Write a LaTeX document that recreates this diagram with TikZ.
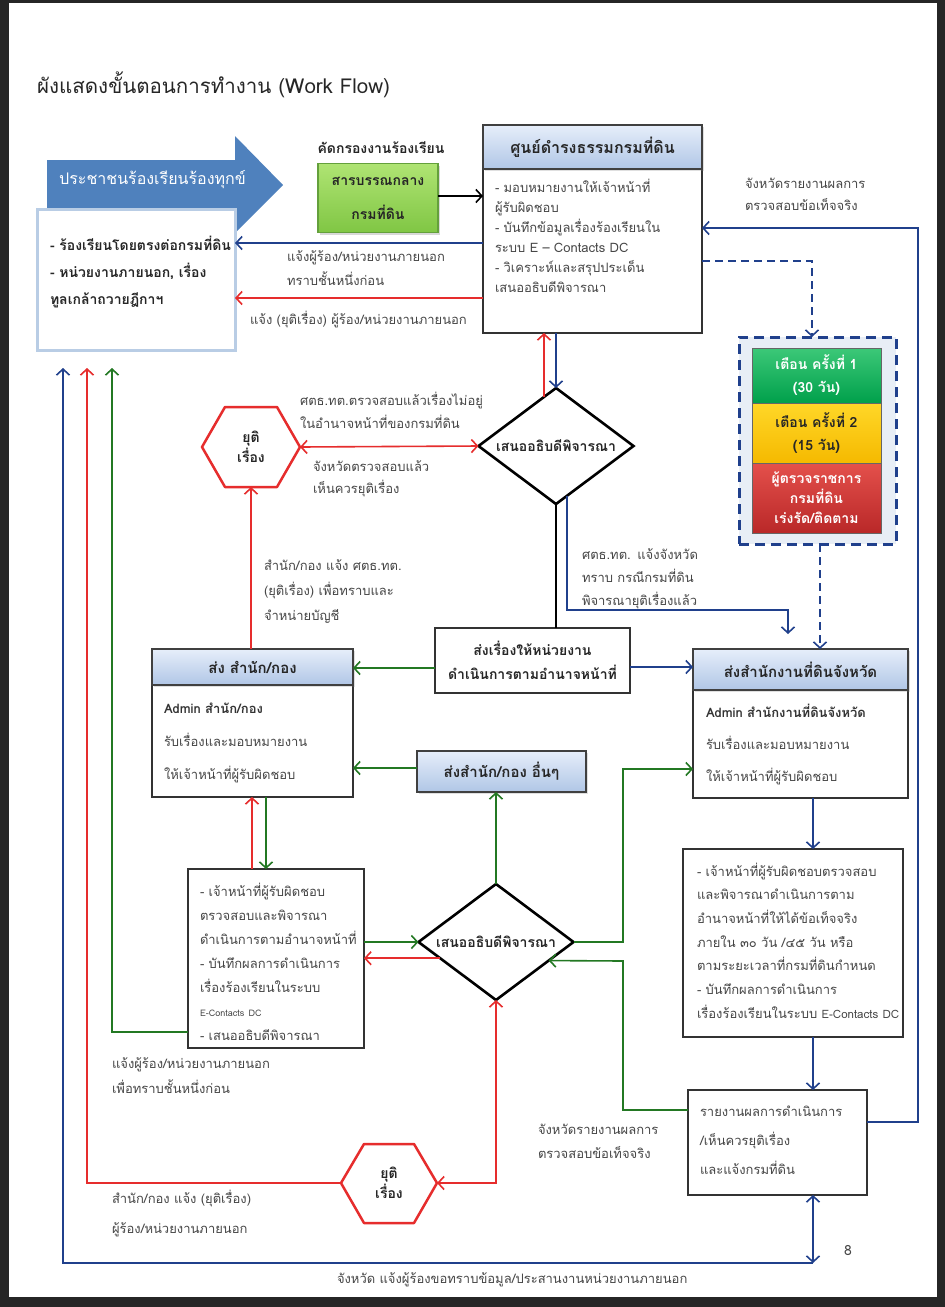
\documentclass[tikz,border=0pt]{standalone}
\usepackage{fontspec}
\setmainfont[Script=Thai]{Loma}
\usetikzlibrary{shapes.geometric,arrows.meta,shadows,calc}
\definecolor{lblue}{RGB}{32,64,140}
\definecolor{lred}{RGB}{230,45,45}
\definecolor{lgreen}{RGB}{35,120,35}
\definecolor{bigarrow}{RGB}{79,129,189}
\definecolor{tgray}{RGB}{70,70,70}
\definecolor{hdtop}{RGB}{230,238,250}
\definecolor{hdbot}{RGB}{176,198,230}
\definecolor{pale}{RGB}{185,205,229}
\definecolor{gtop}{RGB}{175,228,115}
\definecolor{gbot}{RGB}{128,198,68}
\begin{document}
\begin{tikzpicture}[x=1pt,y=-1pt,
  >={Straight Barb[length=6pt,width=13pt]},
  boxs/.style={draw=black!80, line width=1.4pt, fill=white, inner sep=0pt, outer sep=0pt, anchor=north west},
  hdrs/.style={draw=black!75, line width=2.2pt, top color=hdtop, bottom color=hdbot, inner sep=0pt, outer sep=0pt, anchor=north west, font=\fontsize{15}{18}\selectfont\bfseries, text=black!85, drop shadow={opacity=0.25,shadow xshift=2pt,shadow yshift=-2pt}},
  tx/.style={inner sep=0pt, outer sep=0pt, anchor=base west, align=left, text=tgray, text width=260pt},
  bf/.style={inner sep=0pt, outer sep=0pt, align=center, text=black!85, font=\fontsize{14}{#1}\selectfont\bfseries},
  bf/.default=20,
  cb/.style={draw=lblue, line width=1.6pt},
  cr/.style={draw=lred, line width=1.6pt},
  cg/.style={draw=lgreen, line width=1.6pt},
  dsh/.style={dash pattern=on 8pt off 5pt},
  hexs/.style={draw=lred, line width=2.5pt, fill=white, line join=round},
  dia/.style={diamond, draw=black, line width=2.6pt, fill=white, minimum width=155pt, minimum height=116pt, inner sep=0pt, outer sep=0pt},
  warn/.style={draw=black!60, line width=1pt, inner sep=0pt, outer sep=0pt, anchor=north west, minimum width=129pt, align=center, font=\fontsize{14}{#1}\selectfont\bfseries},
]
\useasboundingbox (0,0) rectangle (945,1307);
% page frame
\fill[black!85] (0,0) rectangle (945,1307);
\fill[white] (9,3) rectangle (937,1297);

% title
\node[anchor=base west, inner sep=0pt, font=\fontsize{20.5}{24}\selectfont, text=black!85] (title) at (37,93) {ผังแสดงขั้นตอนการทำงาน (Work Flow)};

% big arrow
\fill[bigarrow] (47,160) -- (235,160) -- (235,136) -- (283,185) -- (235,233) -- (235,208) -- (47,208) -- cycle;
\node[anchor=base west, inner sep=0pt, text=white, font=\fontsize{16}{20}\selectfont] (people) at (59,184) {ประชาชนร้องเรียนร้องทุกข์};

% left box
\node[draw=pale, line width=3pt, fill=white, minimum width=198pt, minimum height=141pt, anchor=north west, inner sep=0pt, outer sep=0pt] (lbox) at (37,209) {};
\node[tx, font=\fontsize{14}{27}\selectfont\bfseries, text=black!85] (ltext) at (50,250) {- ร้องเรียนโดยตรงต่อกรมที่ดิน\\- หน่วยงานภายนอก, เรื่อง\\ทูลเกล้าถวายฎีกาฯ};

% green box
\node[bf] (kad) at (381,148) {คัดกรองงานร้องเรียน};
\node[draw={rgb,255:red,100;green,160;blue,60}, line width=1.2pt, top color=gtop, bottom color=gbot, minimum width=120pt, minimum height=69pt, inner sep=0pt, outer sep=0pt, align=center, font=\fontsize{14}{34}\selectfont\bfseries, text=black!85, drop shadow={opacity=0.3,shadow xshift=2pt,shadow yshift=-2pt}] (sarab) at (378,198) {สารบรรณกลาง\\กรมที่ดิน};

% central office
\node[boxs, minimum width=219pt, minimum height=164pt] (sbody) at (483,169) {};
\node[hdrs, minimum width=219pt, minimum height=44pt, font=\fontsize{16}{18}\selectfont\bfseries] (shdr) at (483,125) {ศูนย์ดำรงธรรมกรมที่ดิน};
\node[tx, font=\fontsize{13}{20}\selectfont] (stext) at (495,192) {- มอบหมายงานให้เจ้าหน้าที่\\ผู้รับผิดชอบ\\- บันทึกข้อมูลเรื่องร้องเรียนใน\\ระบบ E – Contacts DC\\- วิเคราะห์และสรุปประเด็น\\เสนออธิบดีพิจารณา};

\draw[->, line width=1.6pt] (sarab.east |- 0,196) -- (sbody.west |- 0,196);

% labels top
\node[tx, font=\fontsize{13}{24}\selectfont] (lab1) at (287,261) {แจ้งผู้ร้อง/หน่วยงานภายนอก\\ทราบชั้นหนึ่งก่อน};
\node[tx, font=\fontsize{13}{24}\selectfont] (lab2) at (250,324) {แจ้ง (ยุติเรื่อง) ผู้ร้อง/หน่วยงานภายนอก};
\node[tx, font=\fontsize{13}{22}\selectfont] (lab3) at (745,188) {จังหวัดรายงานผลการ\\ตรวจสอบข้อเท็จจริง};

\draw[cb,->] (sbody.west |- 0,243) -- (lbox.east |- 0,243);
\draw[cr,->] (sbody.west |- 0,298) -- (lbox.east |- 0,298);

% warning box
\node[draw=lblue, line width=3pt, dash pattern=on 10pt off 6pt, fill={rgb,255:red,232;green,238;blue,246}, minimum width=157pt, minimum height=207pt, inner sep=0pt, outer sep=0pt, anchor=north west] (dbox) at (739,337) {};
\node[warn=23, top color={rgb,255:red,60;green,200;blue,120}, bottom color={rgb,255:red,0;green,160;blue,75}, minimum height=55pt, text=white] (w1) at (752,348) {เตือน ครั้งที่ 1\\(30 วัน)};
\node[warn=23, top color={rgb,255:red,255;green,215;blue,40}, bottom color={rgb,255:red,245;green,185;blue,0}, minimum height=60pt, text=black!85] (w2) at (752,403) {เตือน ครั้งที่ 2\\(15 วัน)};
\node[warn=20, top color={rgb,255:red,228;green,80;blue,75}, bottom color={rgb,255:red,185;green,40;blue,40}, minimum height=70pt, text=white] (w3) at (752,463) {ผู้ตรวจราชการ\\กรมที่ดิน\\เร่งรัด/ติดตาม};

\draw[cb,dsh,->] (sbody.east |- 0,261) -- (812,261) -- (dbox.north -| 812,0);

% decision 1
\node[dia] (d1) at (556,446) {};
\node[bf] (d1t) at (d1) {เสนออธิบดีพิจารณา};
\coordinate (d1a) at ($(d1.north)!0.155!(d1.west)$);
\coordinate (d1b) at ($(d1.south)!0.145!(d1.east)$);

% hexagon 1
\draw[hexs] (202,447) -- (225,407) -- (277,407) -- (300,447) -- (277,487) -- (225,487) -- cycle;
\node[bf=20] (h1) at (251,447) {ยุติ\\เรื่อง};
\coordinate (h1e) at (300,447);
\coordinate (h1s) at (251,487);

\node[tx, font=\fontsize{13}{23}\selectfont] (lab4) at (300,405) {ศตธ.ทต.ตรวจสอบแล้วเรื่องไม่อยู่\\ในอำนาจหน้าที่ของกรมที่ดิน};
\node[tx, font=\fontsize{13}{22}\selectfont] (lab5) at (313,471) {จังหวัดตรวจสอบแล้ว\\เห็นควรยุติเรื่อง};
\node[tx, font=\fontsize{13}{25}\selectfont] (lab6) at (264,570) {สำนัก/กอง แจ้ง ศตธ.ทต.\\(ยุติเรื่อง) เพื่อทราบและ\\จำหน่ายบัญชี};
\node[tx, font=\fontsize{13}{23}\selectfont] (lab7) at (582,559) {ศตธ.ทต. แจ้งจังหวัด\\ทราบ กรณีกรมที่ดิน\\พิจารณายุติเรื่องแล้ว};

\draw[cr,->] (d1a) -- (sbody.south -| d1a);
\draw[cb,->] (sbody.south -| d1.north) -- (d1.north);
\draw[cr,<->] (h1e) -- (d1.west);

% dispatch box
\node[boxs, minimum width=195pt, minimum height=65pt, align=center, font=\fontsize{14}{24}\selectfont\bfseries, text=black!85] (sbox) at (435,628) {ส่งเรื่องให้หน่วยงาน\\ดำเนินการตามอำนาจหน้าที่};
\draw[line width=1.8pt] (d1.south) -- (d1.south |- sbox.north);

% division
\node[boxs, minimum width=201pt, minimum height=112pt] (kbody) at (152,685) {};
\node[hdrs, minimum width=201pt, minimum height=36pt] (khdr) at (152,649) {ส่ง สำนัก/กอง};
\node[tx, font=\fontsize{13}{33}\selectfont] (ktext) at (164,713) {{\bfseries\color{black!80}Admin สำนัก/กอง}\\รับเรื่องและมอบหมายงาน\\ให้เจ้าหน้าที่ผู้รับผิดชอบ};

% province
\node[boxs, minimum width=215pt, minimum height=108pt] (jbody) at (693,690) {};
\node[hdrs, minimum width=215pt, minimum height=41pt] (jhdr) at (693,649) {ส่งสำนักงานที่ดินจังหวัด};
\node[tx, font=\fontsize{13}{32}\selectfont] (jtext) at (706,717) {{\bfseries\color{black!80}Admin สำนักงานที่ดินจังหวัด}\\รับเรื่องและมอบหมายงาน\\ให้เจ้าหน้าที่ผู้รับผิดชอบ};

% other divisions
\node[hdrs, minimum width=169pt, minimum height=41pt] (other) at (417,751) {ส่งสำนัก/กอง อื่นๆ};

\draw[cr,->] (khdr.north -| h1s) -- (h1s);
\draw[cb,->,shorten >=15pt] (d1b) -- (d1b |- 0,610) -- (788,610) -- (jhdr.north -| 788,0);
\draw[cb,dsh,->] (dbox.south -| 820,0) -- (jhdr.north -| 820,0);
\draw[cg,->] (sbox.west |- 0,668) -- (khdr.east |- 0,668);
\draw[cb,->] (sbox.east |- 0,667) -- (jhdr.west |- 0,667);
\draw[cg,->] (other.west |- 0,768) -- (kbody.east |- 0,768);

% officer box (division)
\node[boxs, minimum width=176pt, minimum height=179pt] (b4) at (188,869) {};
\node[tx, font=\fontsize{13}{24}\selectfont] (b4text) at (200,896) {- เจ้าหน้าที่ผู้รับผิดชอบ\\ตรวจสอบและพิจารณา\\ดำเนินการตามอำนาจหน้าที่\\- บันทึกผลการดำเนินการ\\เรื่องร้องเรียนในระบบ\\{\fontsize{9}{24}\selectfont E-Contacts DC}\\- เสนออธิบดีพิจารณา};

% decision 2
\node[dia] (d2) at (496,942) {};
\node[bf] (d2t) at (d2) {เสนออธิบดีพิจารณา};
\coordinate (d2a) at ($(d2.west)!0.28!(d2.south)$);
\coordinate (d2c) at ($(d2.east)!0.32!(d2.south)$);

% province officer box
\node[boxs, minimum width=220pt, minimum height=188pt] (rbox) at (683,849) {};
\node[tx, font=\fontsize{13}{23.7}\selectfont] (rtext) at (697,876) {- เจ้าหน้าที่ผู้รับผิดชอบตรวจสอบ\\และพิจารณาดำเนินการตาม\\อำนาจหน้าที่ให้ได้ข้อเท็จจริง\\ภายใน ๓๐ วัน /๔๕ วัน หรือ\\ตามระยะเวลาที่กรมที่ดินกำหนด\\- บันทึกผลการดำเนินการ\\เรื่องร้องเรียนในระบบ {\fontsize{11.5}{23.7}\selectfont E-Contacts DC}};

% report box
\node[boxs, minimum width=179pt, minimum height=105pt] (rep) at (688,1090) {};
\node[tx, font=\fontsize{13}{29}\selectfont] (reptext) at (700,1116) {รายงานผลการดำเนินการ\\/เห็นควรยุติเรื่อง\\และแจ้งกรมที่ดิน};

% hexagon 2
\draw[hexs] (341,1183) -- (364,1144) -- (414,1144) -- (437,1183) -- (414,1223) -- (364,1223) -- cycle;
\node[bf=20] (h2) at (389,1183) {ยุติ\\เรื่อง};
\coordinate (h2e) at (437,1183);
\coordinate (h2w) at (341,1183);

% arrow tips near left box
\coordinate (tipB) at (63,368);
\coordinate (tipR) at (87,368);
\coordinate (tipG) at (112,368);
\coordinate (bj) at (813,1263);

% connectors lower part
\draw[cr,->] (b4.north -| 252,0) -- (kbody.south -| 252,0);
\draw[cg,->] (kbody.south -| 266,0) -- (b4.north -| 266,0);
\draw[cg,->] (d2.north) -- (other.south -| d2.north);
\draw[cg,->] (b4.east |- d2.west) -- (d2.west);
\draw[cr,->] (d2a) -- (b4.east |- d2a);
\draw[cg,->] (d2.east) -- (d2.east -| 623,0) -- (623,769) -- (jbody.west |- 0,769);
\draw[cg,->] (rep.west |- 0,1110) -- (623,1110) -- (623,961) -- (d2c);
\draw[cr,<->] (d2.south) -- (d2.south |- h2e) -- (h2e);
\draw[cr,->] (h2w) -- (h2w -| tipR) -- (tipR);
\draw[cg,->] (b4.west |- 0,1032) -- (tipG |- 0,1032) -- (tipG);
\draw[cb,->] (bj) -- (bj -| tipB) -- (tipB);
\draw[cb,<->] (rep.south -| bj) -- (bj);
\draw[cb,->] (jbody.south -| 813,0) -- (rbox.north -| 813,0);
\draw[cb,->] (rbox.south -| 813,0) -- (rep.north -| 813,0);
\draw[cb,->] (rep.east |- 0,1122) -- (918,1122) -- (918,228) -- (sbody.east |- 0,228);

% lower labels
\node[tx, font=\fontsize{13}{25}\selectfont] (lab8) at (112,1068) {แจ้งผู้ร้อง/หน่วยงานภายนอก\\เพื่อทราบชั้นหนึ่งก่อน};
\node[tx, font=\fontsize{13}{30}\selectfont] (lab9) at (112,1203) {สำนัก/กอง แจ้ง (ยุติเรื่อง)\\ผู้ร้อง/หน่วยงานภายนอก};
\node[tx, font=\fontsize{13}{24}\selectfont] (lab10) at (538,1134) {จังหวัดรายงานผลการ\\ตรวจสอบข้อเท็จจริง};
\node[tx, text width=480pt, font=\fontsize{13}{16}\selectfont] (lab11) at (337,1283) {จังหวัด แจ้งผู้ร้องขอทราบข้อมูล/ประสานงานหน่วยงานภายนอก};
\node[inner sep=0pt, font=\fontsize{14}{16}\selectfont, text=tgray] (page) at (848,1250) {8};
\end{tikzpicture}
\end{document}
